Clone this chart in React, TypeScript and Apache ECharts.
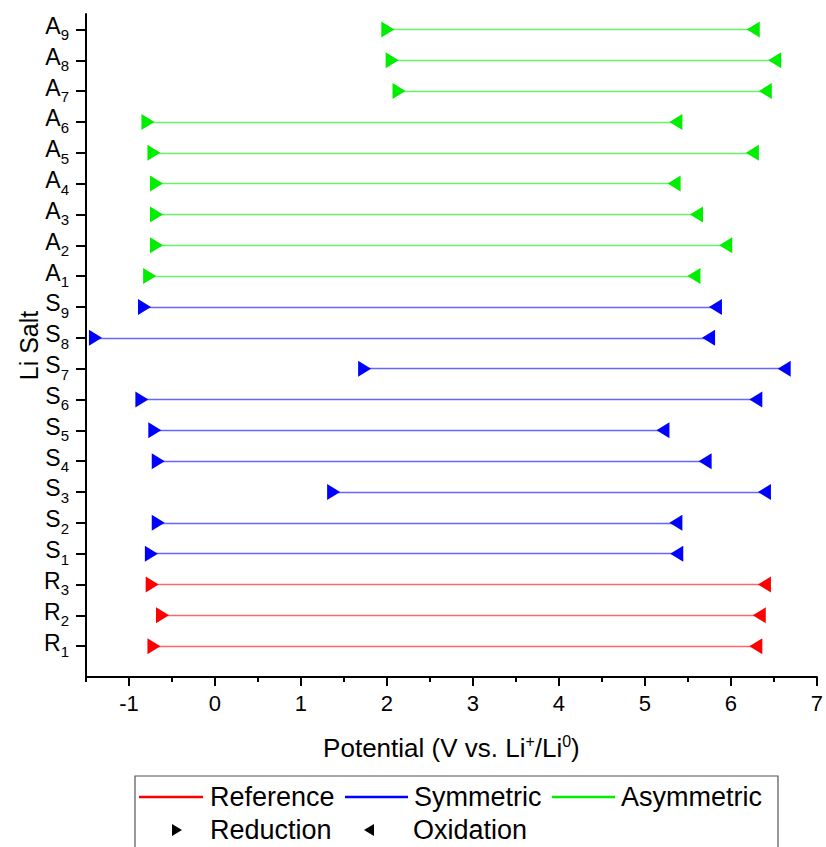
import React, { useEffect, useRef } from "react";
import * as echarts from "echarts";

// ---- data ----
const saltNames = [
  "R1", "R2", "R3",
  "S1", "S2", "S3", "S4", "S5", "S6", "S7", "S8", "S9",
  "A1", "A2", "A3", "A4", "A5", "A6", "A7", "A8", "A9",
];
// reduction (left end, ► marker) potentials, V vs Li+/Li0
const reductionPotential = [
  -0.71, -0.61, -0.73,
  -0.74, -0.66, 1.38, -0.66, -0.7, -0.85, 1.74, -1.39, -0.82,
  -0.76, -0.68, -0.68, -0.68, -0.71, -0.78, 2.14, 2.06, 2.01,
];
// oxidation (right end, ◄ marker) potentials
const oxidationPotential = [
  6.29, 6.33, 6.39,
  5.37, 5.36, 6.39, 5.7, 5.21, 6.29, 6.62, 5.74, 5.82,
  5.57, 5.94, 5.6, 5.34, 6.25, 5.36, 6.4, 6.51, 6.26,
];
const groupNames = ["Reference", "Symmetric", "Asymmetric"];
const groupPrefix = ["R", "S", "A"];
const groupColors = ["#ff0000", "#0000ff", "#00ee00"];
const xTickLabels = [-1, 0, 1, 2, 3, 4, 5, 6, 7];
const xMinorTicks = [-1.5, -0.5, 0.5, 1.5, 2.5, 3.5, 4.5, 5.5, 6.5];

const FONT = "'Liberation Sans', Arial, Helvetica, sans-serif";
const RIGHT_TRI = "path://M0,0L10,6L0,12Z";
const LEFT_TRI = "path://M10,0L0,6L10,12Z";

export default function App() {
  const ref = useRef<HTMLDivElement>(null);

  useEffect(() => {
    if (!ref.current) return;
    const chart = echarts.init(ref.current, undefined, { renderer: "svg" });

    const yValues = saltNames.map((_, i) => i + 1);
    const series: any[] = [];
    groupNames.forEach((g, gi) => {
      const idx = saltNames
        .map((n, i) => (n[0] === groupPrefix[gi] ? i : -1))
        .filter((i) => i >= 0);
      series.push({
        name: g,
        type: "lines",
        coordinateSystem: "cartesian2d",
        silent: true,
        z: 2,
        lineStyle: { color: groupColors[gi], width: 1.4, opacity: 0.6, type: "solid" },
        data: idx.map((i) => ({
          coords: [
            [reductionPotential[i], yValues[i]],
            [oxidationPotential[i], yValues[i]],
          ],
        })),
      });
      series.push({
        name: g + " Reduction",
        type: "scatter",
        symbol: RIGHT_TRI,
        symbolSize: [13, 16],
        symbolKeepAspect: false,
        z: 3,
        itemStyle: { color: groupColors[gi], opacity: 1 },
        data: idx.map((i) => [reductionPotential[i], yValues[i]]),
      });
      series.push({
        name: g + " Oxidation",
        type: "scatter",
        symbol: LEFT_TRI,
        symbolSize: [13, 16],
        symbolKeepAspect: false,
        z: 3,
        itemStyle: { color: groupColors[gi], opacity: 1 },
        data: idx.map((i) => [oxidationPotential[i], yValues[i]]),
      });
    });

    const legendRow1 = 797;
    const legendRow2 = 830;
    const legendText = (text: string, x: number, y: number) => ({
      type: "text",
      x,
      y,
      style: {
        text,
        fill: "#000",
        font: `27px ${FONT}`,
        textVerticalAlign: "middle",
        textAlign: "left",
      },
    });
    const legendLine = (x1: number, x2: number, y: number, color: string) => ({
      type: "line",
      shape: { x1, y1: y, x2, y2: y },
      style: { stroke: color, lineWidth: 2.5 },
    });

    const option: any = {
      animation: false,
      backgroundColor: "#ffffff",
      textStyle: { fontFamily: FONT },
      grid: { left: 86, top: 14, width: 731, height: 663 },
      xAxis: [
        {
          type: "value",
          min: -1.5,
          max: 7,
          name: "{t|Potential (V vs. Li}{p|+}{t|/Li}{p|0}{t|)}",
          nameLocation: "middle",
          nameGap: 56,
          nameMoveOverlap: false,
          nameTextStyle: {
            rich: {
              t: { fontSize: 26, fontFamily: FONT, color: "#000", lineHeight: 28, verticalAlign: "bottom" },
              p: { fontSize: 16, fontFamily: FONT, color: "#000", lineHeight: 16, verticalAlign: "top" },
            },
          },
          axisLine: { show: true, onZero: false, lineStyle: { color: "#000", width: 2 } },
          axisTick: { show: true, length: 9, customValues: xTickLabels, lineStyle: { color: "#000", width: 2 } },
          axisLabel: {
            show: true,
            customValues: xTickLabels,
            margin: 15,
            fontSize: 22,
            color: "#000",
            fontFamily: FONT,
          },
          splitLine: { show: false },
        },
        {
          type: "value",
          min: -1.5,
          max: 7,
          position: "bottom",
          axisLine: { show: false, onZero: false },
          axisTick: { show: true, length: 5, customValues: xMinorTicks, lineStyle: { color: "#000", width: 2 } },
          axisLabel: { show: false },
          splitLine: { show: false },
        },
      ],
      yAxis: {
        type: "value",
        min: 0,
        max: 21.5,
        name: "Li Salt",
        nameLocation: "middle",
        nameGap: 45,
        nameMoveOverlap: false,
        nameTextStyle: { fontSize: 25, color: "#000", fontFamily: FONT },
        axisLine: { show: true, onZero: false, lineStyle: { color: "#000", width: 2 } },
        axisTick: { show: true, length: 10, customValues: yValues, lineStyle: { color: "#000", width: 2 } },
        axisLabel: {
          show: true,
          customValues: yValues,
          margin: 17,
          padding: [11, 0, 0, 0],
          formatter: (v: number) => {
            const n = saltNames[Math.round(v) - 1];
            if (!n) return "";
            return `{b|${n[0]}}{s|${n.slice(1)}}`;
          },
          rich: {
            b: { fontSize: 23, fontFamily: FONT, color: "#000", lineHeight: 24, verticalAlign: "top" },
            s: { fontSize: 15, fontFamily: FONT, color: "#000", lineHeight: 41, verticalAlign: "middle" },
          },
        },
        splitLine: { show: false },
      },
      series,
      graphic: [
        {
          type: "rect",
          shape: { x: 135, y: 776, width: 643, height: 90 },
          style: { fill: "#fff", stroke: "#555", lineWidth: 1.2 },
        },
        legendLine(139, 203, legendRow1, groupColors[0]),
        legendText("Reference", 210, legendRow1),
        legendLine(345, 408, legendRow1, groupColors[1]),
        legendText("Symmetric", 414, legendRow1),
        legendLine(552, 615, legendRow1, groupColors[2]),
        legendText("Asymmetric", 621, legendRow1),
        {
          type: "polygon",
          shape: { points: [[172, legendRow2 - 6], [182, legendRow2], [172, legendRow2 + 6]] },
          style: { fill: "#000" },
        },
        legendText("Reduction", 210, legendRow2),
        {
          type: "polygon",
          shape: { points: [[374, legendRow2 - 6], [364, legendRow2], [374, legendRow2 + 6]] },
          style: { fill: "#000" },
        },
        legendText("Oxidation", 413, legendRow2),
      ],
    };

    chart.setOption(option);
    return () => chart.dispose();
  }, []);

  return (
    <div
      ref={ref}
      style={{ position: "absolute", left: 0, top: 0, width: 826, height: 847, background: "#fff" }}
    />
  );
}
